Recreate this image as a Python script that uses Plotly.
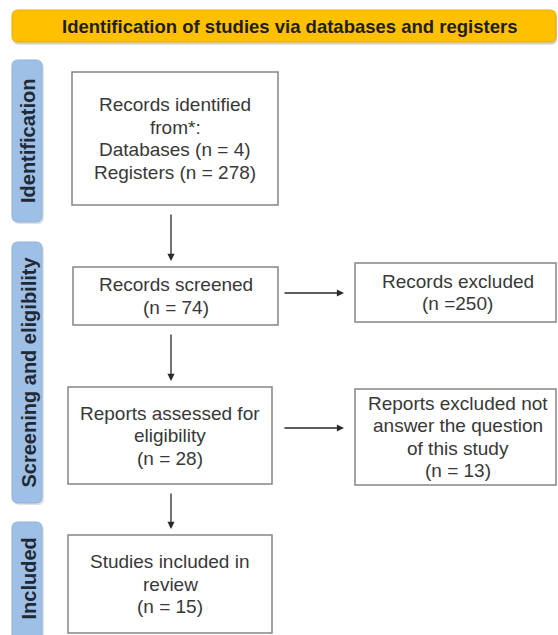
import plotly.graph_objects as go

# ---------------- data ----------------
header_title = "Identification of studies via databases and registers"
phase_labels = ["Identification", "Screening and eligibility", "Included"]
source_title = ["Records identified", "from*:"]
source_labels = ["Databases", "Registers"]
source_counts = [4, 278]
flow_labels = [["Records screened"], ["Reports assessed for", "eligibility"], ["Studies included in", "review"]]
flow_counts = [74, 28, 15]
excluded_labels = [["Records excluded"], ["Reports excluded not", "answer the question", "of this study"]]
excluded_counts = [250, 13]
excluded_fmt = ["(n ={})", "(n = {})"]

# ---------------- layout constants ----------------
W, H = 558, 635
FONT = "Liberation Sans, Arial, sans-serif"
TXT = "#383838"
BORDER = "#858585"
GOLD = "#FFC000"
BLUE = "#9fc0e6"
BOX_FONT = 19
LINE_SP = 22.5

header_box = (12, 10, 556, 42)
phase_boxes = [(12, 60, 42, 222), (12, 242, 42, 503), (12, 522, 42, 645)]
main_boxes = [(72, 72, 278, 205), (73, 267, 278, 325), (68, 387, 272, 484), (68, 535, 272, 633)]
excl_boxes = [(355, 263, 556, 322), (355, 389, 556, 485)]
arrow_x = 171
horiz_arrows_x = (283, 344)
horiz_arrows_y = [293, 428]

fig = go.Figure()
shapes = []
annotations = []


def rrect(x0, y0, x1, y1, r):
    return (f"M {x0+r},{y0} L {x1-r},{y0} Q {x1},{y0} {x1},{y0+r} "
            f"L {x1},{y1-r} Q {x1},{y1} {x1-r},{y1} L {x0+r},{y1} "
            f"Q {x0},{y1} {x0},{y1-r} L {x0},{y0+r} Q {x0},{y0} {x0+r},{y0} Z")


def add_lines(lines, xc, yc, size=BOX_FONT, sp=LINE_SP):
    n = len(lines)
    for i, ln in enumerate(lines):
        annotations.append(dict(x=xc, y=yc + (i - (n - 1) / 2) * sp, text=ln, showarrow=False,
                                font=dict(family=FONT, size=size, color=TXT),
                                xanchor="center", yanchor="middle"))


# header with shadow
hx0, hy0, hx1, hy1 = header_box
for off, op in [(3, 0.18), (2, 0.22)]:
    shapes.append(dict(type="path", path=rrect(hx0 + 1, hy0 + off, hx1 + 1, hy1 + off, 6),
                       fillcolor="#808080", opacity=op, line=dict(width=0), layer="below"))
shapes.append(dict(type="path", path=rrect(hx0, hy0, hx1, hy1, 6),
                   fillcolor=GOLD, line=dict(color="#e8ad00", width=1)))
annotations.append(dict(x=289, y=(hy0 + hy1) / 2, text=f"<b>{header_title}</b>",
                        showarrow=False, font=dict(family=FONT, size=18.5, color="#1e1e1e"),
                        xanchor="center", yanchor="middle"))

# phase labels (blue, vertical text)
for (x0, y0, x1, y1), lab in zip(phase_boxes, phase_labels):
    shapes.append(dict(type="path", path=rrect(x0 + 2, y0 + 2, x1 + 2, y1 + 2, 6),
                       fillcolor="#9a9a9a", opacity=0.3, line=dict(width=0)))
    shapes.append(dict(type="path", path=rrect(x0, y0, x1, y1, 6),
                       fillcolor=BLUE, line=dict(color="#8fb1d8", width=1)))
    yc = (y0 + min(y1, H)) / 2
    annotations.append(dict(x=(x0 + x1) / 2 + 1, y=yc, text=f"<b>{lab}</b>", textangle=-90,
                            showarrow=False, font=dict(family=FONT, size=20, color="#1f2a36"),
                            xanchor="center", yanchor="middle"))

# main boxes
main_lines = [source_title + [f"{l} (n = {c})" for l, c in zip(source_labels, source_counts)]]
main_lines += [l + [f"(n = {c})"] for l, c in zip(flow_labels, flow_counts)]
for (x0, y0, x1, y1), lines in zip(main_boxes, main_lines):
    shapes.append(dict(type="rect", x0=x0, y0=y0, x1=x1, y1=y1,
                       line=dict(color=BORDER, width=1.5), fillcolor="white"))
    add_lines(lines, (x0 + x1) / 2, (y0 + y1) / 2)

# excluded boxes
for (x0, y0, x1, y1), l, c, f in zip(excl_boxes, excluded_labels, excluded_counts, excluded_fmt):
    shapes.append(dict(type="rect", x0=x0, y0=y0, x1=x1, y1=y1,
                       line=dict(color=BORDER, width=1.5), fillcolor="white"))
    add_lines(l + [f.format(c)], (x0 + x1) / 2 + 2, (y0 + y1) / 2)

# vertical arrows between main boxes
for a, b in zip(main_boxes[:-1], main_boxes[1:]):
    annotations.append(dict(x=arrow_x, y=b[1] - 6, ax=arrow_x, ay=a[3] + 8,
                            xref="x", yref="y", axref="x", ayref="y", text="",
                            showarrow=True, arrowhead=2, arrowsize=1.1, arrowwidth=1.3,
                            arrowcolor="#2a2a2a"))

# horizontal arrows to excluded boxes
for yc in horiz_arrows_y:
    annotations.append(dict(x=horiz_arrows_x[1], y=yc, ax=horiz_arrows_x[0], ay=yc,
                            xref="x", yref="y", axref="x", ayref="y", text="",
                            showarrow=True, arrowhead=2, arrowsize=1.1, arrowwidth=1.3,
                            arrowcolor="#2a2a2a"))

fig.update_layout(
    width=W, height=H, margin=dict(l=0, r=0, t=0, b=0),
    paper_bgcolor="white", plot_bgcolor="white",
    xaxis=dict(range=[0, W], visible=False, fixedrange=True),
    yaxis=dict(range=[H, 0], visible=False, fixedrange=True),
    shapes=shapes, annotations=annotations, showlegend=False,
)
fig.write_html("out.html", config={"displayModeBar": False},
               post_script="document.body.style.margin='0';document.body.style.overflow='hidden';")
